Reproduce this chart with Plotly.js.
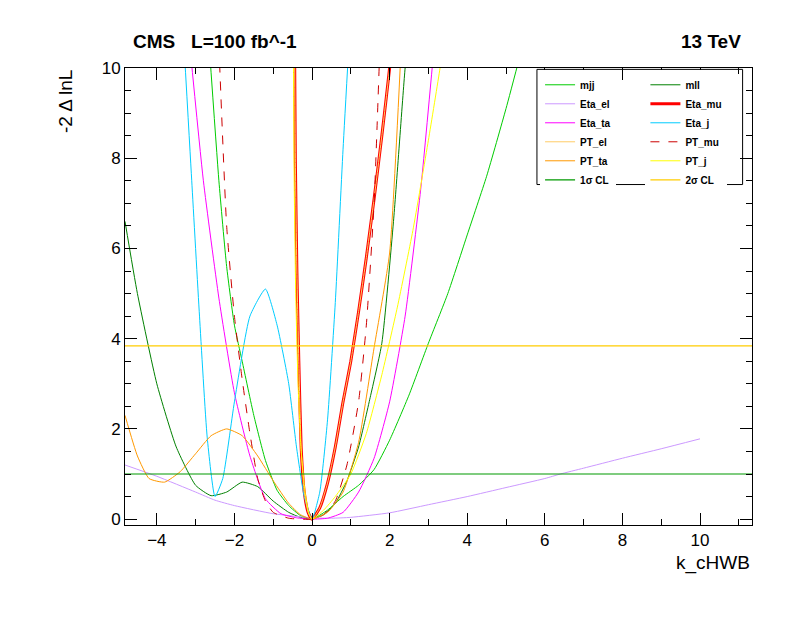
<!DOCTYPE html>
<html>
<head>
<meta charset="utf-8">
<script src="https://cdn.plot.ly/plotly-3.0.1.min.js"></script>
<style>body{margin:0;background:#fff}#plot{width:796px;height:622px}</style>
</head>
<body>
<div id="plot"></div>
<script>
// scan values
const mjjX = [-2.65,-2.4,-2.2,-2.0,-1.8,-1.5,-1.2,-0.9,-0.6,-0.3,0,0.4,0.8,1.2,1.6,2.0,2.5,3.0,3.5,4.0,4.5,5.0,5.4];
const mjjY = [10.5,7.5,5.6,4.3,3.5,2.3,1.3,0.64,0.3,0.08,0,0.2,0.5,0.75,1.1,1.75,2.75,3.9,5.0,6.3,7.6,9.1,10.4];
const mllX = [-4.82,-4.5,-4.0,-3.5,-3.0,-2.6,-2.2,-1.8,-1.4,-1.0,-0.6,-0.3,0,0.3,0.6,0.9,1.2,1.5,1.8,2.1,2.4,2.5];
const mllY = [6.6,5.0,3.0,1.6,0.75,0.52,0.6,0.82,0.72,0.4,0.15,0.04,0,0.1,0.35,0.85,1.6,2.7,3.9,6.6,10,10.8];
const etaElX = [-4.82,-4,-3,-2.5,-2,-1,0,0.5,1,2,3,4,5,6,6.4,7,8,9,10];
const etaElY = [1.2,0.95,0.6,0.42,0.3,0.12,0.03,0.02,0.04,0.14,0.32,0.5,0.7,0.9,1.0,1.13,1.35,1.56,1.78];
const etaMuX = [-0.45,-0.43,-0.39,-0.34,-0.28,-0.2,-0.1,0,0.2,0.4,0.6,0.8,1.0,1.2,1.4,1.6,1.8,2.0,2.05];
const etaMuY = [10.5,8,5.5,3.5,1.6,0.6,0.15,0,0.25,0.8,1.6,2.6,3.5,4.6,5.8,7.1,8.5,10,10.5];
const etaTaX = [-3.15,-2.8,-2.4,-2.0,-1.6,-1.2,-0.8,-0.4,0,0.4,0.8,1.2,1.6,2.0,2.4,2.8,3.15];
const etaTaY = [10.5,7.5,4.9,2.8,1.4,0.45,0.12,0.03,0,0.02,0.15,0.6,1.35,2.6,4.5,7.3,10.5];
const etaJX = [-3.3,-3.1,-2.9,-2.7,-2.5,-2.3,-2.0,-1.6,-1.2,-0.9,-0.6,-0.4,-0.2,0,0.2,0.4,0.6,0.8,0.95];
const etaJY = [10.5,7.5,4.5,1.8,0.5,0.9,2.6,4.5,5.1,4.3,3.0,1.6,0.5,0,0.6,2.2,4.8,8.2,10.5];
const ptElX = etaMuX;
const ptElY = etaMuY;
const ptMuX = [-2.4,-2.2,-2.0,-1.8,-1.6,-1.4,-1.2,-1.0,-0.6,-0.3,0,0.3,0.6,0.9,1.2,1.4,1.6,1.75];
const ptMuY = [10.5,6.5,4.5,3.1,1.9,0.9,0.4,0.15,0.02,0,0,0.1,0.4,1.2,2.6,4.3,7,10.5];
const ptTaX = [-4.82,-4.5,-4.2,-3.8,-3.4,-3.0,-2.6,-2.2,-1.8,-1.4,-1.0,-0.6,-0.3,0,0.4,0.8,1.2,1.6,2.0,2.3];
const ptTaY = [2.3,1.4,0.9,0.82,1.05,1.45,1.85,2.0,1.85,1.4,0.85,0.35,0.1,0,0.15,0.6,1.7,3.8,5.9,10.5];
const ptJX = [-0.48,-0.46,-0.42,-0.36,-0.28,-0.18,-0.08,0,0.3,0.6,1.0,1.4,1.8,2.2,2.6,3.0,3.3,3.4];
const ptJY = [10.5,7.5,5,3,1.5,0.6,0.12,0,0.2,0.5,1.0,1.9,3.2,4.7,6.4,8.4,10,10.6];
const clX = [-4.82, 11.34];
const cl1Y = [1.0, 1.0];
const cl2Y = [3.84, 3.84];

function curve(name, x, y, color, width, dash, leg) {
    return {
        x: x, y: y, name: name, type: "scatter", mode: "lines", legend: leg,
        line: { color: color, width: width || 1, dash: dash || "solid", shape: "spline", smoothing: 0.5 },
        hoverinfo: "skip"
    };
}

// left legend column = "legend", right column = "legend2"
const traces = [
    curve("mjj", mjjX, mjjY, "#00cc00", 1, null, "legend"),
    curve("mll", mllX, mllY, "#008000", 1, null, "legend2"),
    curve("Eta_el", etaElX, etaElY, "#cc99ff", 1, null, "legend"),
    curve("Eta_mu", etaMuX, etaMuY, "#ff0000", 3, null, "legend2"),
    curve("Eta_ta", etaTaX, etaTaY, "#ff00ff", 1, null, "legend"),
    curve("Eta_j", etaJX, etaJY, "#00ccff", 1, null, "legend2"),
    curve("PT_el", ptElX, ptElY, "#ffcc66", 1, null, "legend"),
    curve("PT_mu", ptMuX, ptMuY, "#cc0000", 1, "dash", "legend2"),
    curve("PT_ta", ptTaX, ptTaY, "#ff9900", 1, null, "legend"),
    curve("PT_j", ptJX, ptJY, "#ffff00", 1, null, "legend2"),
    curve("1σ CL", clX, cl1Y, "#009900", 1.2, null, "legend"),
    curve("2σ CL", clX, cl2Y, "#ffcc00", 1.2, null, "legend2")
];

const axisBase = {
    showgrid: false, zeroline: false, showline: true, linecolor: "black", linewidth: 1,
    mirror: "ticks", ticks: "inside", ticklen: 12, tickcolor: "black",
    tickfont: { size: 17, family: "Liberation Sans, Arial" }
};

const legendBase = {
    yanchor: "top", xanchor: "left", y: 0.995,
    bgcolor: "white", borderwidth: 0, tracegroupgap: 0, itemwidth: 30,
    font: { size: 10, family: "Liberation Sans, Arial", weight: "bold" }
};

const layout = {
    width: 796, height: 622,
    margin: { l: 125, r: 44, t: 68, b: 97 },
    paper_bgcolor: "white", plot_bgcolor: "white",
    font: { family: "Liberation Sans, Arial", color: "black" },
    showlegend: true,
    legend: Object.assign({}, legendBase, { x: 0.662 }),
    legend2: Object.assign({}, legendBase, { x: 0.83 }),
    xaxis: Object.assign({}, axisBase, {
        range: [-4.82, 11.34], dtick: 2, tick0: 0,
        minor: { ticks: "inside", ticklen: 6, tickcolor: "black", dtick: 1 }
    }),
    yaxis: Object.assign({}, axisBase, {
        range: [-0.13, 10], dtick: 2, tick0: 0,
        minor: { ticks: "inside", ticklen: 6, tickcolor: "black", dtick: 0.5 }
    }),
    shapes: [
        { type: "rect", xref: "paper", yref: "paper", x0: 0.657, x1: 0.985, y0: 0.745, y1: 0.997,
          line: { color: "black", width: 1 }, fillcolor: "rgba(0,0,0,0)", layer: "above" }
    ],
    annotations: [
        { xref: "paper", yref: "paper", x: 0.01, y: 1.03, xanchor: "left", yanchor: "bottom", showarrow: false,
          text: "<b>CMS   L=100 fb^-1</b>", font: { size: 19 } },
        { xref: "paper", yref: "paper", x: 0.985, y: 1.03, xanchor: "right", yanchor: "bottom", showarrow: false,
          text: "<b>13 TeV</b>", font: { size: 19 } },
        { xref: "paper", yref: "paper", x: -0.075, y: 1.0, xanchor: "right", yanchor: "top", showarrow: false,
          text: "-2 Δ lnL", textangle: -90, font: { size: 19 } },
        { xref: "paper", yref: "paper", x: 1.0, y: -0.055, xanchor: "right", yanchor: "top", showarrow: false,
          text: "k_cHWB", font: { size: 19 } }
    ]
};

Plotly.newPlot("plot", traces, layout, { displayModeBar: false, staticPlot: true });
</script>
</body>
</html>
